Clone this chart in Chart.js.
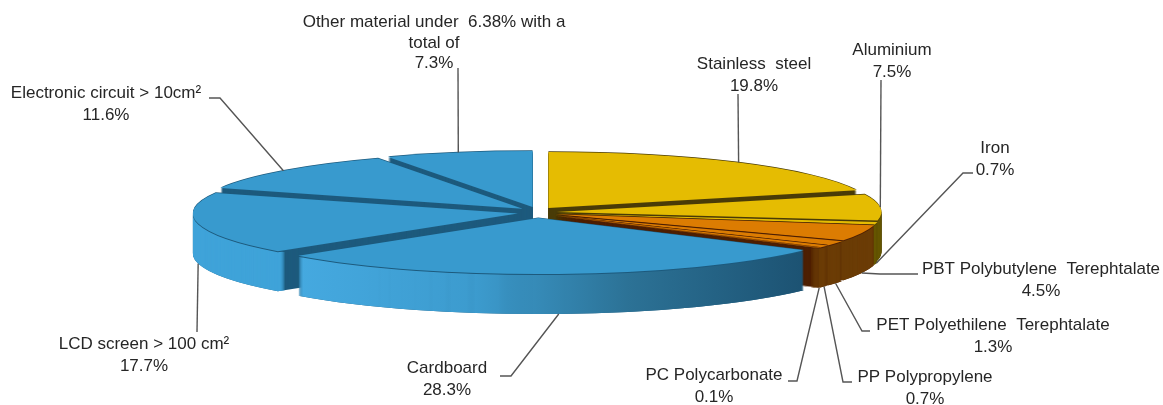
<!DOCTYPE html>
<html>
<head>
<meta charset="utf-8">
<style>
  html, body { margin: 0; padding: 0; background: #fff; }
  #wrap { width: 1163px; height: 405px; }
</style>
</head>
<body>
<div id="wrap"><canvas id="pie"></canvas></div>
<script src="https://cdn.jsdelivr.net/npm/chart.js@4"></script>
<script>
// Data, clockwise from the top
const materials = [
    'Stainless steel', 'Aluminium', 'Iron', 'PBT Polybutylene  Terephtalate',
    'PET Polyethilene  Terephtalate', 'PP Polypropylene', 'PC Polycarbonate',
    'Cardboard', 'LCD screen > 100 cm\u00b2', 'Electronic circuit > 10cm\u00b2', 'Other material'
];
const shares = [19.8, 7.5, 0.7, 4.5, 1.3, 0.7, 0.1, 28.3, 17.7, 11.6, 7.3];

// Slice colours: top face, outer rim, cut walls
const topColors = ['#e5bc02', '#e5bc02', '#e5bc02', '#dc7c02', '#dc7c02', '#dc7c02', '#dc7c02',
    '#389ace', '#389ace', '#389ace', '#389ace'];
const rimColors = ['#655602', '#655602', '#655602', '#6b3c06', '#6b3c06', '#6b3c06', '#6b3c06',
    null, '#3fa3d9', '#3fa3d9', '#3fa3d9'];
const wallColors = ['#4a3c08', '#4a3c08', '#4a3c08', '#4e2004', '#4e2004', '#4e2004', '#4e2004',
    '#1d5a7d', '#1d5a7d', '#1d5a7d', '#1d5a7d'];

// 3D look of the pie
const PIE = { cx: 537, cy: 212.5, rx: 325, ry: 56, depth: 40, explodeX: 0.06, explodeY: 0.1 };

// Label layout: text centre, first baseline, leader start and elbow
const labelLayout = [
    { lines: ['Stainless  steel'], x: 754, y: 69, from: [738, 94], bottom: false },
    { lines: ['Aluminium'], x: 892, y: 55, from: [881, 80], bottom: false },
    { lines: ['Iron'], x: 995, y: 153, from: [973, 173], elbow: [963, 173], bottom: true },
    { lines: ['PBT Polybutylene  Terephtalate'], x: 1041, y: 274, from: [918, 274], elbow: [880, 274], bottom: true },
    { lines: ['PET Polyethilene  Terephtalate'], x: 993, y: 330, from: [870, 331], elbow: [862, 331], bottom: true },
    { lines: ['PP Polypropylene'], x: 925, y: 382, from: [852, 382], elbow: [843, 382], bottom: true },
    { lines: ['PC Polycarbonate'], x: 714, y: 380, from: [788, 381], elbow: [797, 381], bottom: true },
    { lines: ['Cardboard'], x: 447, y: 373, from: [500, 376], elbow: [511, 376], bottom: true },
    { lines: ['LCD screen > 100 cm\u00b2'], x: 144, y: 349, from: [197, 332], bottom: true },
    { lines: ['Electronic circuit > 10cm\u00b2'], x: 106, y: 98, from: [209, 98], elbow: [220, 98], bottom: false },
    { lines: ['Other material under  6.38% with a', 'total of'], x: 434, y: 27, from: [458, 68], rowGap: 20.7, bottom: false }
];

function midAngle(arc) {
    return (arc.startAngle + arc.endAngle) / 2;
}

// Puts the flat Chart.js pie onto the tilted ellipse, k pixels below the top face
function tilt(ctx, arc, k, a) {
    const sx = PIE.rx / arc.outerRadius;
    const sy = PIE.ry / arc.outerRadius;
    ctx.translate(PIE.cx + PIE.explodeX * PIE.rx * Math.cos(a), PIE.cy + PIE.explodeY * PIE.ry * Math.sin(a) + k);
    ctx.scale(sx, sy);
    ctx.translate(-arc.x, -arc.y);
}

function paintArc(ctx, arc, k, fill, inner, mid) {
    const baseOptions = arc.options;
    const baseInner = arc.innerRadius;
    const opts = Object.create(baseOptions);
    opts.backgroundColor = fill;
    opts.borderWidth = 0;
    arc.options = opts;
    arc.innerRadius = inner;
    ctx.save();
    tilt(ctx, arc, k, mid);
    arc.draw(ctx);
    ctx.restore();
    arc.options = baseOptions;
    arc.innerRadius = baseInner;
}

function rimFill(ctx, arc, i) {
    if (rimColors[i]) return rimColors[i];
    // gradient runs in the unscaled chart coordinates
    const half = arc.outerRadius;
    const g = ctx.createLinearGradient(arc.x - half * 0.74, 0, arc.x + half * 0.82, 0);
    g.addColorStop(0, '#45a9e0');
    g.addColorStop(0.35, '#3c9bce');
    g.addColorStop(0.65, '#2c7296');
    g.addColorStop(1, '#1c5272');
    return g;
}

const tiltedPie = {
    id: 'tiltedPie',
    beforeDatasetsDraw(chart) {
        const ctx = chart.ctx;
        const arcs = chart.getDatasetMeta(0).data;
        // back slices first so the front ones cover them
        const order = arcs.map((a, i) => i).sort((p, q) => Math.sin(midAngle(arcs[p])) - Math.sin(midAngle(arcs[q])));
        order.forEach(i => {
            const arc = arcs[i];
            const mid = midAngle(arc);
            for (let k = PIE.depth; k >= 2; k--) paintArc(ctx, arc, k, wallColors[i], 0, mid);

            // the rim only shows on the front half of the ellipse
            const start = arc.startAngle;
            const end = arc.endAngle;
            arc.startAngle = Math.max(start, 0);
            arc.endAngle = Math.min(end, Math.PI);
            if (arc.endAngle > arc.startAngle) {
                const rim = rimFill(ctx, arc, i);
                for (let k = PIE.depth; k >= 2; k--) paintArc(ctx, arc, k, rim, arc.outerRadius * 0.97, mid);
            }
            arc.startAngle = start;
            arc.endAngle = end;

            // thin dark outline round the top face
            paintArc(ctx, arc, 1, wallColors[i], 0, mid);
            paintArc(ctx, arc, -0.7, wallColors[i], 0, mid);
            paintArc(ctx, arc, 0, topColors[i], 0, mid);
        });
        return false;
    },
    afterDraw(chart) {
        const ctx = chart.ctx;
        const arcs = chart.getDatasetMeta(0).data;
        ctx.save();
        arcs.forEach((arc, i) => {
            const spot = labelLayout[i];
            const a = midAngle(arc);
            const ax = PIE.cx + (1 + PIE.explodeX) * PIE.rx * Math.cos(a);
            const ay = PIE.cy + (1 + PIE.explodeY) * PIE.ry * Math.sin(a) + (spot.bottom ? PIE.depth : 0);
            ctx.beginPath();
            ctx.moveTo(spot.from[0], spot.from[1]);
            if (spot.elbow) ctx.lineTo(spot.elbow[0], spot.elbow[1]);
            ctx.lineTo(ax, ay);
            ctx.strokeStyle = '#555';
            ctx.lineWidth = 1.4;
            ctx.stroke();

            ctx.font = '17px "Liberation Sans", Arial, sans-serif';
            ctx.fillStyle = '#262626';
            ctx.textAlign = 'center';
            ctx.textBaseline = 'alphabetic';
            const rows = spot.lines.concat([shares[i].toFixed(1) + '%']);
            rows.forEach((row, r) => ctx.fillText(row, spot.x, spot.y + r * (spot.rowGap || 21.7)));
        });
        ctx.restore();
    }
};

new Chart(document.getElementById('pie'), {
    type: 'pie',
    data: {
        labels: materials,
        datasets: [{
            data: shares,
            backgroundColor: topColors,
            borderWidth: 0,
        }],
    },
    options: {
        responsive: true,
        maintainAspectRatio: false,
        animation: false,
        events: [],
        plugins: {
            legend: { display: false },
            tooltip: { enabled: false },
        },
    },
    plugins: [tiltedPie],
});
</script>
</body>
</html>
